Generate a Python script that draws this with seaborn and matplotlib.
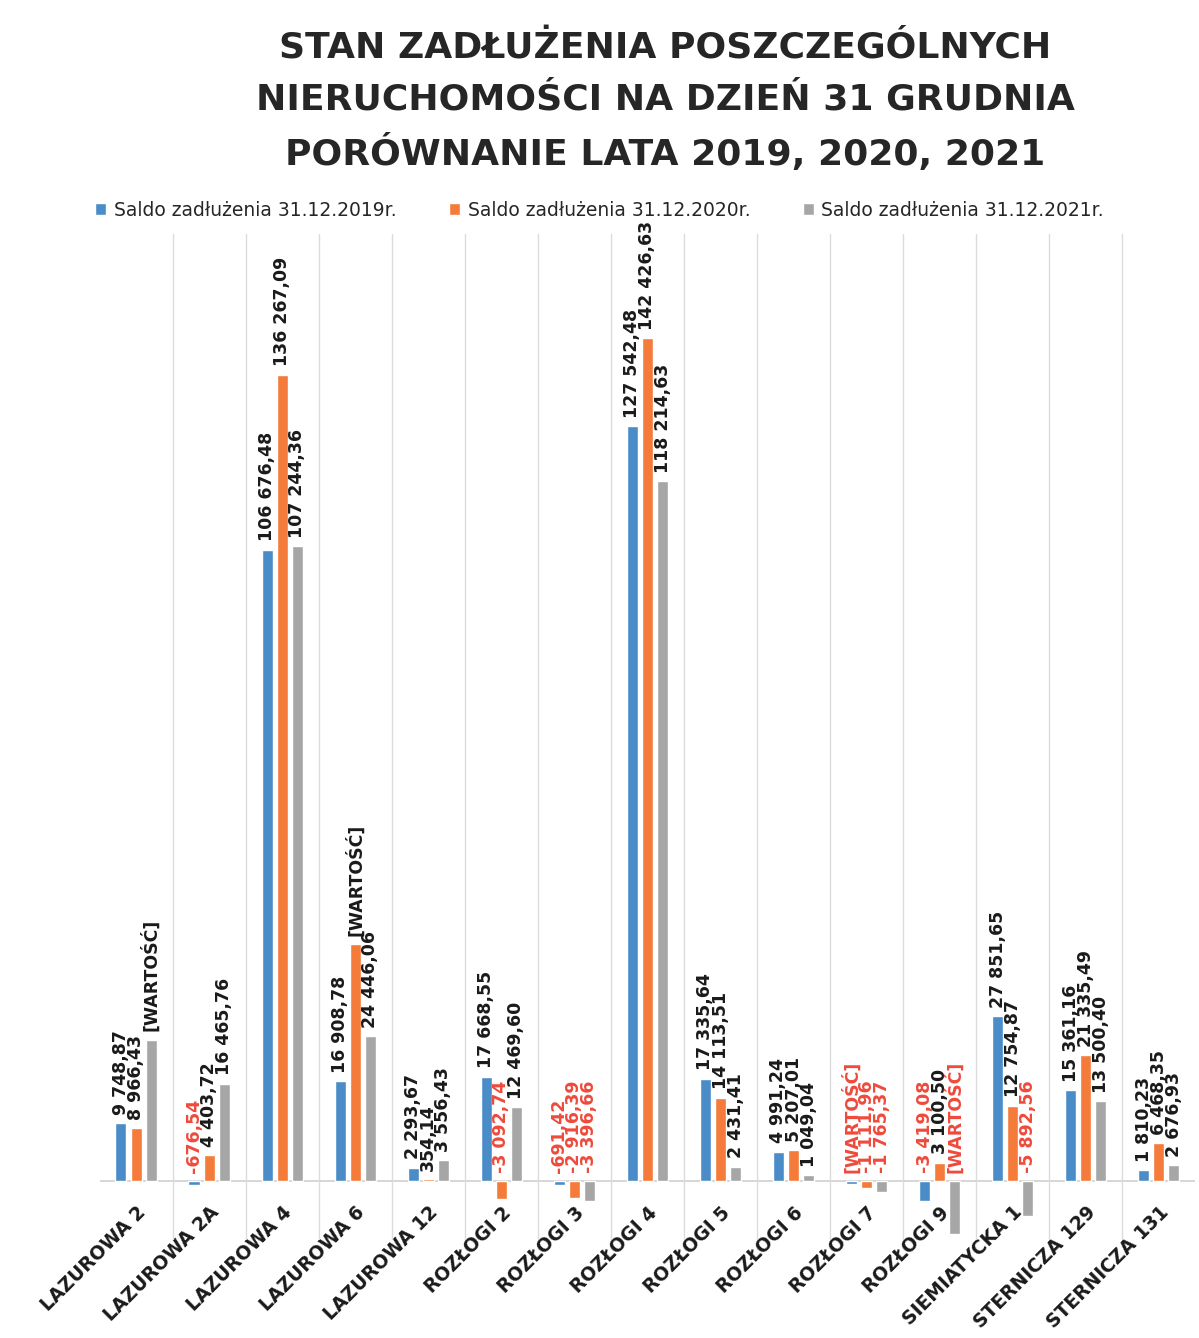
import pandas as pd
import seaborn as sns
import matplotlib.pyplot as plt

# Dane
nieruchomosci = ["LAZUROWA 2", "LAZUROWA 2A", "LAZUROWA 4", "LAZUROWA 6", "LAZUROWA 12",
                 "ROZŁOGI 2", "ROZŁOGI 3", "ROZŁOGI 4", "ROZŁOGI 5", "ROZŁOGI 6",
                 "ROZŁOGI 7", "ROZŁOGI 9", "SIEMIATYCKA 1", "STERNICZA 129", "STERNICZA 131"]

saldo_2019 = [9748.87, -676.54, 106676.48, 16908.78, 2293.67,
              17668.55, -691.42, 127542.48, 17335.64, 4991.24,
              -500.0, -3419.08, 27851.65, 15361.16, 1810.23]
saldo_2020 = [8966.43, 4403.72, 136267.09, 40000.0, 354.14,
              -3092.74, -2916.39, 142426.63, 14113.51, 5207.01,
              -1111.96, 3100.50, 12754.87, 21335.49, 6468.35]
saldo_2021 = [23900.0, 16465.76, 107244.36, 24446.06, 3556.43,
              12469.60, -3396.66, 118214.63, 2431.41, 1049.04,
              -1765.37, -9000.0, -5892.56, 13500.40, 2676.93]

# etykiety, których Excel nie pokazał (wartości szacowane)
brak_etykiety = {("2021", 0), ("2020", 3), ("2019", 10), ("2021", 11)}

serie = ["Saldo zadłużenia 31.12.2019r.", "Saldo zadłużenia 31.12.2020r.", "Saldo zadłużenia 31.12.2021r."]
kolory = ["#4a8cc8", "#f47b3a", "#a6a6a6"]

df = pd.DataFrame({
    "nieruchomosc": nieruchomosci * 3,
    "seria": [serie[0]] * 15 + [serie[1]] * 15 + [serie[2]] * 15,
    "saldo": saldo_2019 + saldo_2020 + saldo_2021,
})

sns.set_style("white")
plt.rcParams["font.family"] = ["DejaVu Sans"]

fig = plt.figure(figsize=(11.99, 13.38), dpi=100)
ax = fig.add_axes([0.083, 0.073, 0.914, 0.752])

sns.barplot(data=df, x="nieruchomosc", y="saldo", hue="seria", order=nieruchomosci,
            hue_order=serie, palette=kolory, saturation=1, width=0.62, gap=0.27,
            errorbar=None, ax=ax)

ax.set_ylim(-10000, 160000)
ax.set_xlim(-0.5, len(nieruchomosci) - 0.5)
ax.set_xlabel("")
ax.set_ylabel("")
ax.set_yticks([])
for s in ax.spines.values():
    s.set_visible(False)

# pionowe linie siatki między kategoriami
ax.set_xticks([i + 0.5 for i in range(len(nieruchomosci) - 1)], minor=True)
ax.grid(True, axis="x", which="minor", color="#dcdcdc", linewidth=1)
ax.axhline(0, color="#d0d0d0", linewidth=1.2, zorder=0)
ax.tick_params(axis="x", which="both", length=0, pad=-27)
plt.setp(ax.get_xticklabels(), rotation=45, ha="right", rotation_mode="anchor",
         fontsize=13.5, fontweight="bold", color="#1a1a1a")

# etykiety danych
wartosci = {"2019": saldo_2019, "2020": saldo_2020, "2021": saldo_2021}
for rok, kontener in zip(["2019", "2020", "2021"], ax.containers):
    for i, bar in enumerate(kontener):
        v = wartosci[rok][i]
        if (rok, i) in brak_etykiety:
            tekst = "[WARTOŚĆ]"
        else:
            tekst = f"{v:,.2f}".replace(",", " ").replace(".", ",")
        kolor = "#ef4a3c" if v < 0 else "#1a1a1a"
        x = bar.get_x() + bar.get_width() / 2
        ax.annotate(tekst, (x, max(v, 0)), xytext=(0, 6), textcoords="offset points",
                    rotation=90, ha="center", va="bottom", fontsize=12.5,
                    fontweight="bold", color=kolor, annotation_clip=False)

# legenda
uchwyty, etykiety = ax.get_legend_handles_labels()
ax.get_legend().remove()
fig.legend(uchwyty, etykiety, loc="center", bbox_to_anchor=(0.5, 1 - 210 / 1338), ncol=3,
           frameon=False, fontsize=13.5, handlelength=0.6, handleheight=0.6,
           columnspacing=2.8, handletextpad=0.4)

# tytuł
tytul = ["STAN ZADŁUŻENIA POSZCZEGÓLNYCH",
         "NIERUCHOMOŚCI NA DZIEŃ 31 GRUDNIA",
         "PORÓWNANIE LATA 2019, 2020, 2021"]
for j, linia in enumerate(tytul):
    fig.text(0.555, 1 - (47 + 53 * j) / 1338, linia, ha="center", va="center",
             fontsize=26, fontweight="bold", color="#262626")

fig.savefig("out.png", dpi=100, facecolor="white")
